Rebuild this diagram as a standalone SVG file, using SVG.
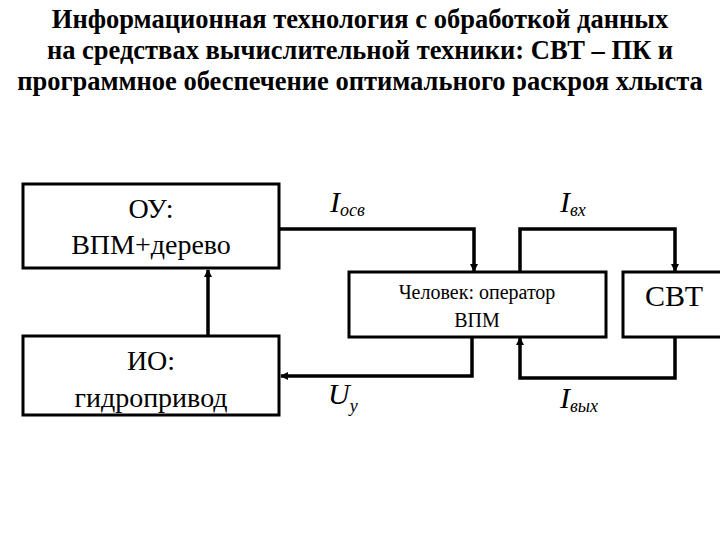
<svg xmlns="http://www.w3.org/2000/svg" width="720" height="540" viewBox="0 0 720 540">
<style>
.b{fill:#fff;stroke:#000;stroke-width:3}
.c{fill:none;stroke:#000;stroke-width:3.5}
.t{font-family:"Liberation Serif","Times New Roman",serif;fill:#000;text-anchor:middle}
.h{font-family:"Liberation Serif","Times New Roman",serif;font-weight:bold;font-size:26.5px;text-anchor:middle}
.i{font-family:"Liberation Serif","Times New Roman",serif;font-style:italic;font-size:30px}
.s{font-size:18px}
</style>
<defs><marker id="a" markerWidth="8" markerHeight="8" refX="7" refY="4" orient="auto" markerUnits="userSpaceOnUse"><path d="M0,0L8,4L0,8z"/></marker></defs>
<rect width="720" height="540" fill="#fff"/>
<text class="h" x="360" y="28">Информационная технология с обработкой данных</text>
<text class="h" x="360" y="59">на средствах вычислительной техники: СВТ – ПК и</text>
<text class="h" x="360" y="90">программное обеспечение оптимального раскроя хлыста</text>
<g id="ou"><rect class="b" x="23" y="184" width="256" height="84"/><text class="t" font-size="28" x="151" y="218">ОУ:</text><text class="t" font-size="28" x="151" y="254">ВПМ+дерево</text></g>
<g id="io"><rect class="b" x="23" y="336" width="256" height="79"/><text class="t" font-size="28" x="151" y="370">ИО:</text><text class="t" font-size="28" x="151" y="407">гидропривод</text></g>
<g id="op"><rect class="b" x="349" y="272" width="257" height="65"/><text class="t" font-size="20" x="477" y="299">Человек: оператор</text><text class="t" font-size="20" x="477" y="327">ВПМ</text></g>
<g id="svt"><rect class="b" x="623" y="272" width="110" height="65"/><text class="t" font-size="30" x="674" y="306">СВТ</text></g>
<g id="connectors">
<path class="c" d="M208,336V270" marker-end="url(#a)"/>
<path class="c" d="M279,229H474V271" marker-end="url(#a)"/>
<path class="c" d="M520,272V229H675V271" marker-end="url(#a)"/>
<path class="c" d="M675,337V378H520V338" marker-end="url(#a)"/>
<path class="c" d="M472,337V376H281" marker-end="url(#a)"/>
</g>
<g id="labels">
<text class="i" x="330" y="212">I<tspan class="s" dy="4">осв</tspan></text>
<text class="i" x="560" y="212">I<tspan class="s" dy="4">вх</tspan></text>
<text class="i" x="328" y="404">U<tspan class="s" dy="8">y</tspan></text>
<text class="i" x="560" y="408">I<tspan class="s" dy="4">вых</tspan></text>
</g>
</svg>
